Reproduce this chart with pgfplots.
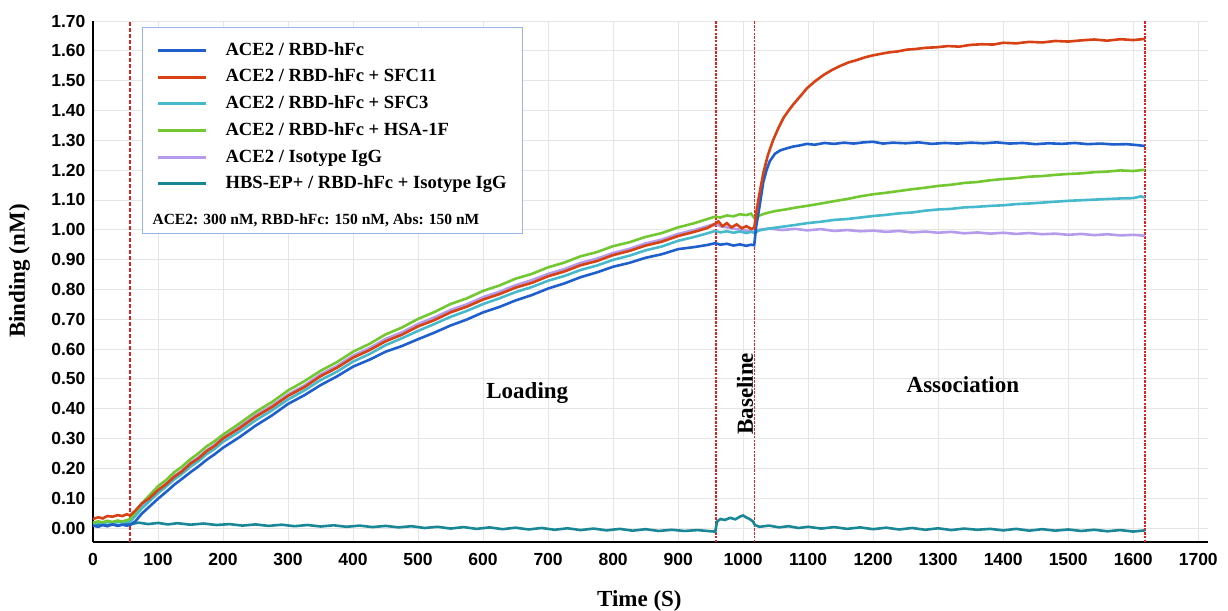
\documentclass[border=0pt]{standalone}
\usepackage{fontspec}
\setmainfont{Liberation Serif}
\newfontfamily\arialfont{Liberation Sans}
\usepackage{pgfplots}
\pgfplotsset{compat=1.18}

\definecolor{cblue}{RGB}{30,95,205}
\definecolor{cred}{RGB}{215,65,20}
\definecolor{ccyan}{RGB}{70,185,205}
\definecolor{cgreen}{RGB}{115,200,50}
\definecolor{clav}{RGB}{180,155,235}
\definecolor{cteal}{RGB}{25,135,150}
\definecolor{cline}{RGB}{230,30,30}
\definecolor{cbox}{RGB}{150,180,230}

\begin{document}
\begin{tikzpicture}
\begin{axis}[
  scale only axis,
  width=1115pt, height=521pt,
  xmin=0, xmax=1715, ymin=-0.047, ymax=1.70,
  xtick={0,100,200,300,400,500,600,700,800,900,1000,1100,1200,1300,1400,1500,1600,1700},
  ytick={0,0.1,0.2,0.3,0.4,0.5,0.6,0.7,0.8,0.9,1.0,1.1,1.2,1.3,1.4,1.5,1.6,1.7},
  axis x line=bottom, axis y line=left,
  axis line style={line width=2.5pt, -},
  grid=major,
  major grid style={draw=gray!20, line width=0.8pt},
  tick style={draw=none},
  scaled ticks=false,
  /pgf/number format/assume math mode=true,
  /pgf/number format/1000 sep={},
  xticklabel style={font=\arialfont\fontsize{17.5}{20}\selectfont\bfseries, yshift=-6pt},
  yticklabel style={font=\arialfont\fontsize{17.5}{20}\selectfont\bfseries, xshift=-2pt,
    /pgf/number format/.cd, fixed, fixed zerofill, precision=2},
  xlabel={Time (S)}, ylabel={Binding (nM)},
  label style={font=\fontsize{23}{27}\selectfont\bfseries},
  xlabel style={at={(axis description cs:0.49,-0.086)}, anchor=north},
  ylabel style={at={(axis description cs:-0.066,0.52)}, anchor=center},
  legend style={at={(axis description cs:0.044,0.988)}, anchor=north west,
    draw=cbox, line width=1pt, fill=white,
    inner xsep=14pt, inner ysep=12pt, row sep=5.2pt, column sep=16pt,
    font=\fontsize{18.6}{21}\selectfont\bfseries,
    nodes={inner sep=2pt, text height=13.5pt, text depth=4pt}},
  legend cell align=left,
  legend image code/.code={\draw[#1, line width=3pt] (0pt,0pt) -- (48pt,0pt);},
]

% phase boundaries
\addplot[forget plot, cline, line width=1.3pt, dash pattern=on 4pt off 2pt] coordinates {(57,-0.047) (57,1.70)};
\addplot[forget plot, cline, line width=1.4pt, dash pattern=on 2.5pt off 1.2pt] coordinates {(958,-0.047) (958,1.70)};
\addplot[forget plot, cline, line width=1.4pt, dash pattern=on 2.5pt off 1.2pt] coordinates {(1017,-0.047) (1017,1.70)};
\addplot[forget plot, cline, line width=1.4pt, dash pattern=on 2.5pt off 1.2pt] coordinates {(1618,-0.047) (1618,1.70)};

% HBS-EP+ / RBD-hFc + Isotype IgG
\addplot[forget plot, cteal, line width=2.6pt] coordinates {
(0,0.010) (10,0.014) (20,0.008) (30,0.013) (40,0.009) (50,0.015) (57,0.012) (70,0.018) (85,0.013)
(100,0.017) (115,0.012) (130,0.016) (150,0.011) (170,0.015) (190,0.010) (210,0.013) (230,0.008)
(250,0.012) (270,0.007) (290,0.011) (310,0.006) (330,0.010) (350,0.005) (370,0.009) (390,0.004)
(410,0.008) (430,0.003) (450,0.007) (470,0.002) (490,0.006) (510,0.000) (530,0.004) (550,-0.002)
(570,0.003) (590,-0.003) (610,0.002) (630,-0.004) (650,0.001) (670,-0.005) (690,0.000) (710,-0.006)
(730,-0.001) (750,-0.007) (770,-0.002) (790,-0.008) (810,-0.003) (830,-0.009) (850,-0.004) (870,-0.010)
(890,-0.006) (910,-0.010) (930,-0.007) (950,-0.011) (957,-0.012) (960,0.022) (965,0.030) (972,0.027)
(980,0.034) (988,0.029) (995,0.038) (1000,0.042) (1005,0.035) (1010,0.030) (1015,0.022) (1018,0.010)
(1025,0.004) (1040,0.008) (1055,0.002) (1070,0.006) (1085,0.000) (1100,0.004) (1120,-0.002) (1140,0.003)
(1160,-0.003) (1180,0.002) (1200,-0.004) (1220,0.001) (1240,-0.005) (1260,0.000) (1280,-0.006) (1300,-0.001)
(1320,-0.007) (1340,-0.002) (1360,-0.006) (1380,-0.003) (1400,-0.008) (1420,-0.003) (1440,-0.009) (1460,-0.004)
(1480,-0.009) (1500,-0.005) (1520,-0.010) (1540,-0.006) (1560,-0.011) (1580,-0.007) (1600,-0.012) (1618,-0.008)
};

% ACE2 / Isotype IgG
\addplot[forget plot, clav, line width=2.6pt] coordinates {
(0,0.016) (8,0.020) (15,0.017) (22,0.022) (30,0.019) (38,0.023) (45,0.020) (52,0.024) (57,0.025)
(65,0.048) (75,0.075) (87,0.100) (100,0.127) (112,0.148) (125,0.174) (137,0.193) (150,0.219) (162,0.237)
(175,0.261) (187,0.279) (200,0.303) (225,0.339) (250,0.378) (275,0.410) (300,0.448) (325,0.478) (350,0.515)
(375,0.543) (400,0.578) (425,0.603) (450,0.634) (475,0.656) (500,0.684) (525,0.706) (550,0.731) (575,0.750)
(600,0.774) (625,0.792) (650,0.814) (675,0.831) (700,0.852) (725,0.868) (750,0.889) (775,0.903) (800,0.922)
(825,0.936) (850,0.954) (875,0.967) (900,0.986) (925,0.999) (945,1.012) (957,1.020) (965,1.012) (975,1.008)
(985,1.004) (995,1.000) (1005,0.997) (1012,0.995) (1017,0.993)
(1025,1.000) (1040,1.004) (1060,0.999) (1080,1.003) (1098,0.998) (1120,1.002) (1140,0.996) (1160,0.999)
(1180,0.995) (1200,0.997) (1220,0.993) (1240,0.996) (1260,0.991) (1280,0.994) (1300,0.990) (1320,0.993)
(1340,0.988) (1360,0.991) (1380,0.987) (1400,0.990) (1420,0.986) (1440,0.989) (1460,0.985) (1480,0.987)
(1500,0.983) (1520,0.986) (1540,0.982) (1560,0.985) (1580,0.981) (1600,0.983) (1618,0.980)
};

% ACE2 / RBD-hFc + SFC3
\addplot[forget plot, ccyan, line width=2.6pt] coordinates {
(0,0.014) (8,0.018) (15,0.015) (22,0.020) (30,0.017) (38,0.021) (45,0.018) (52,0.022) (57,0.020)
(65,0.040) (75,0.066) (87,0.090) (100,0.117) (112,0.138) (125,0.163) (137,0.182) (150,0.206) (162,0.224)
(175,0.248) (187,0.265) (200,0.289) (225,0.323) (250,0.361) (275,0.394) (300,0.431) (325,0.461) (350,0.496)
(375,0.524) (400,0.558) (425,0.583) (450,0.613) (475,0.636) (500,0.661) (525,0.684) (550,0.708) (575,0.728)
(600,0.751) (625,0.770) (650,0.791) (675,0.808) (700,0.829) (725,0.845) (750,0.865) (775,0.880) (800,0.899)
(825,0.913) (850,0.931) (875,0.944) (900,0.963) (925,0.976) (945,0.988) (957,0.996) (965,0.991) (975,0.995)
(985,0.990) (995,0.994) (1005,0.989) (1012,0.993) (1017,0.990)
(1025,0.998) (1040,1.004) (1060,1.010) (1080,1.016) (1098,1.022) (1120,1.027) (1140,1.033) (1160,1.036)
(1180,1.041) (1200,1.046) (1220,1.050) (1240,1.055) (1260,1.058) (1280,1.064) (1300,1.068) (1320,1.070)
(1340,1.075) (1360,1.077) (1380,1.080) (1400,1.082) (1420,1.086) (1440,1.088) (1460,1.091) (1480,1.094)
(1500,1.097) (1520,1.099) (1540,1.101) (1560,1.103) (1580,1.105) (1600,1.106) (1612,1.112) (1618,1.108)
};

% ACE2 / RBD-hFc + HSA-1F
\addplot[forget plot, cgreen, line width=2.6pt] coordinates {
(0,0.018) (8,0.022) (15,0.019) (22,0.024) (30,0.020) (38,0.025) (45,0.022) (52,0.026) (57,0.030)
(65,0.052) (75,0.082) (87,0.110) (100,0.140) (112,0.160) (125,0.187) (137,0.206) (150,0.231) (162,0.250)
(175,0.274) (187,0.291) (200,0.313) (225,0.350) (250,0.389) (275,0.422) (300,0.461) (325,0.492) (350,0.527)
(375,0.556) (400,0.591) (425,0.617) (450,0.649) (475,0.672) (500,0.701) (525,0.724) (550,0.751) (575,0.770)
(600,0.795) (625,0.813) (650,0.836) (675,0.852) (700,0.874) (725,0.890) (750,0.911) (775,0.925) (800,0.945)
(825,0.958) (850,0.976) (875,0.989) (900,1.008) (925,1.022) (945,1.036) (957,1.044) (965,1.041) (975,1.048)
(985,1.045) (995,1.052) (1005,1.049) (1012,1.054) (1017,1.040)
(1022,1.045) (1030,1.052) (1040,1.058) (1050,1.063) (1065,1.068) (1080,1.074) (1098,1.080) (1120,1.088)
(1140,1.096) (1160,1.103) (1180,1.112) (1200,1.119) (1220,1.124) (1240,1.130) (1260,1.136) (1280,1.141)
(1300,1.147) (1320,1.151) (1340,1.157) (1360,1.160) (1380,1.166) (1400,1.170) (1420,1.173) (1440,1.178)
(1460,1.180) (1480,1.184) (1500,1.187) (1520,1.189) (1540,1.193) (1560,1.195) (1580,1.199) (1600,1.197) (1618,1.201)
};

% ACE2 / RBD-hFc
\addplot[forget plot, cblue, line width=2.6pt] coordinates {
(0,0.008) (8,0.004) (15,0.010) (22,0.006) (30,0.012) (38,0.007) (45,0.011) (52,0.008) (57,0.010)
(65,0.022) (75,0.048) (87,0.072) (100,0.098) (112,0.120) (125,0.145) (137,0.165) (150,0.187) (162,0.206)
(175,0.229) (187,0.247) (200,0.269) (225,0.304) (250,0.343) (275,0.377) (300,0.416) (325,0.445) (350,0.479)
(375,0.508) (400,0.541) (425,0.564) (450,0.591) (475,0.610) (500,0.633) (525,0.655) (550,0.679) (575,0.699)
(600,0.723) (625,0.741) (650,0.763) (675,0.781) (700,0.803) (725,0.820) (750,0.841) (775,0.857) (800,0.876)
(825,0.889) (850,0.906) (875,0.918) (900,0.935) (925,0.942) (945,0.949) (957,0.955) (965,0.950) (975,0.953)
(985,0.947) (995,0.951) (1005,0.946) (1012,0.950) (1017,0.948)
(1020,1.010) (1025,1.075) (1031,1.160) (1036,1.200) (1041,1.230) (1049,1.255) (1057,1.266) (1067,1.273)
(1077,1.279) (1088,1.283) (1098,1.288) (1110,1.285) (1125,1.291) (1140,1.288) (1155,1.292) (1170,1.289)
(1185,1.293) (1200,1.295) (1215,1.289) (1230,1.292) (1250,1.290) (1270,1.293) (1290,1.288) (1310,1.291)
(1330,1.289) (1350,1.292) (1370,1.290) (1390,1.293) (1410,1.289) (1430,1.291) (1450,1.287) (1470,1.290)
(1490,1.288) (1510,1.291) (1530,1.287) (1550,1.289) (1570,1.286) (1590,1.287) (1605,1.284) (1618,1.281)
};

% ACE2 / RBD-hFc + SFC11
\addplot[forget plot, cred, line width=2.6pt] coordinates {
(0,0.030) (8,0.036) (15,0.032) (22,0.040) (30,0.038) (38,0.043) (45,0.040) (52,0.046) (57,0.042)
(65,0.058) (75,0.082) (87,0.100) (100,0.127) (112,0.146) (125,0.172) (137,0.190) (150,0.216) (162,0.233)
(175,0.258) (187,0.275) (200,0.300) (225,0.334) (250,0.373) (275,0.405) (300,0.443) (325,0.472) (350,0.509)
(375,0.537) (400,0.571) (425,0.596) (450,0.626) (475,0.648) (500,0.676) (525,0.697) (550,0.723) (575,0.742)
(600,0.766) (625,0.784) (650,0.806) (675,0.822) (700,0.844) (725,0.860) (750,0.881) (775,0.895) (800,0.915)
(825,0.929) (850,0.947) (875,0.960) (900,0.979) (925,0.993) (945,1.006) (957,1.020) (962,1.028) (968,1.012)
(975,1.022) (982,1.008) (990,1.018) (998,1.005) (1005,1.012) (1012,1.003) (1017,1.006)
(1021,1.070) (1025,1.120) (1031,1.190) (1038,1.250) (1046,1.300) (1054,1.340) (1062,1.375) (1070,1.400)
(1077,1.420) (1088,1.448) (1098,1.474) (1110,1.497) (1123,1.518) (1136,1.535) (1149,1.549) (1162,1.561)
(1175,1.569) (1187,1.578) (1198,1.584) (1212,1.590) (1225,1.595) (1238,1.598) (1252,1.604) (1265,1.606)
(1280,1.610) (1298,1.612) (1315,1.616) (1332,1.614) (1350,1.620) (1367,1.622) (1385,1.621) (1400,1.627)
(1420,1.625) (1440,1.630) (1460,1.628) (1480,1.633) (1500,1.631) (1520,1.635) (1540,1.638) (1560,1.634)
(1580,1.639) (1600,1.636) (1618,1.640)
};

\addlegendimage{cblue}
\addlegendentry{ACE2 / RBD-hFc}
\addlegendimage{cred}
\addlegendentry{ACE2 / RBD-hFc + SFC11}
\addlegendimage{ccyan}
\addlegendentry{ACE2 / RBD-hFc + SFC3}
\addlegendimage{cgreen}
\addlegendentry{ACE2 / RBD-hFc + HSA-1F}
\addlegendimage{clav}
\addlegendentry{ACE2 / Isotype IgG}
\addlegendimage{cteal}
\addlegendentry{HBS-EP+ / RBD-hFc + Isotype IgG}
\addlegendimage{empty legend}
\addlegendentry{\makebox[0pt][l]{\hspace*{-73pt}\raisebox{-9pt}{\fontsize{15.5}{18}\selectfont ACE2: 300 nM, RBD-hFc: 150 nM, Abs: 150 nM}}}

\node[font=\fontsize{23}{27}\selectfont\bfseries] at (axis cs:668,0.453) {Loading};
\node[font=\fontsize{23}{27}\selectfont\bfseries] at (axis cs:1338,0.48) {Association};
\node[font=\fontsize{23}{27}\selectfont\bfseries, rotate=90] at (axis cs:1003,0.45) {Baseline};
\end{axis}
\pgfresetboundingbox
\path (current axis.south west) ++(-93pt,-68pt) rectangle ++(1228pt,610pt);
\end{tikzpicture}
\end{document}
